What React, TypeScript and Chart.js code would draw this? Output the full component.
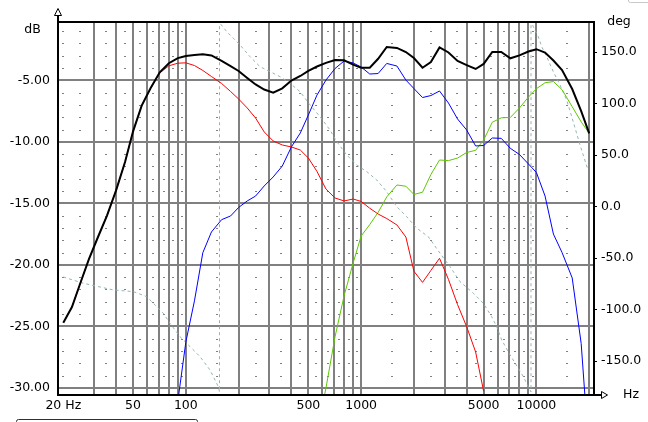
import { useEffect, useRef } from "react";
import { Chart, registerables } from "chart.js";

Chart.register(...registerables);

const FONT = "'DejaVu Sans', sans-serif";

// Frequency grid (Hz) shared by the magnitude curves
const freqs = [20, 22.4, 25, 28, 31.5, 35.5, 40, 45, 50, 56, 63, 71, 80, 90, 100, 112, 125, 140, 160, 180, 200, 224, 250, 280, 315, 355, 400, 450, 500, 560, 630, 710, 800, 900, 1000, 1120, 1250, 1400, 1600, 1800, 2000, 2240, 2500, 2800, 3150, 3550, 4000, 4500, 5000, 5600, 6300, 7100, 8000, 9000, 10000, 11200, 12500, 14000, 16000, 18000, 20000];

// Total response (dB)
const totalDb = [-24.71, -23.43, -21.5, -19.54, -17.76, -16.0, -13.95, -11.64, -9.15, -7.06, -5.63, -4.35, -3.61, -3.2, -3.02, -2.94, -2.89, -2.98, -3.43, -3.84, -4.24, -4.81, -5.34, -5.75, -6.01, -5.65, -5.02, -4.65, -4.24, -3.88, -3.58, -3.35, -3.37, -3.72, -3.98, -3.98, -3.25, -2.29, -2.37, -2.7, -3.19, -3.98, -3.51, -2.33, -2.74, -3.43, -3.76, -4.08, -3.67, -2.7, -2.7, -3.21, -2.97, -2.66, -2.47, -2.74, -3.39, -4.16, -5.71, -7.5, -9.31];

// Red curve (dB)
const redDb = [-24.71, -23.43, -21.5, -19.54, -17.76, -16.0, -13.95, -11.64, -9.15, -7.06, -5.65, -4.4, -3.82, -3.61, -3.58, -3.8, -4.2, -4.69, -5.26, -5.91, -6.52, -7.25, -8.07, -9.2, -9.93, -10.26, -10.42, -10.67, -11.32, -12.41, -13.84, -14.57, -14.81, -14.65, -14.85, -15.4, -15.87, -16.24, -16.76, -17.74, -20.52, -21.43, -20.46, -19.47, -21.19, -23.24, -25.03, -27.09, -30.29, null, null, null, null, null, null, null, null, null, null, null, null];

// Blue curve (dB)
const blueDb = [null, null, null, null, null, null, null, null, null, null, null, null, null, -31.1, -26.28, -22.93, -19.02, -17.33, -16.33, -16.03, -15.34, -14.81, -14.41, -13.59, -12.86, -11.97, -10.42, -9.28, -7.82, -6.2, -4.98, -4.04, -3.43, -3.59, -3.92, -4.49, -4.45, -3.63, -3.84, -4.98, -5.67, -6.4, -6.24, -5.87, -6.85, -8.15, -9.04, -10.34, -10.3, -9.69, -9.72, -10.53, -11.03, -11.8, -12.5, -14.41, -17.5, -19.0, -21.07, -26.4, -35.5];

// Green curve (dB)
const greenDb = [null, null, null, null, null, null, null, null, null, null, null, null, null, null, null, null, null, null, null, null, null, null, null, null, null, null, null, null, null, -33.6, -30.02, -25.85, -22.5, -19.86, -17.66, -16.73, -15.74, -14.48, -13.51, -13.61, -14.28, -14.1, -12.66, -11.48, -11.53, -11.32, -10.87, -10.69, -9.85, -8.41, -8.05, -8.02, -7.25, -6.37, -5.68, -5.2, -5.1, -5.76, -7.15, -8.38, -9.31];

// Phase curve (deg, right axis)
const phaseFreq = [20, 26, 38.6, 50.2, 59.8, 66.7, 74.4, 81.2, 92.6, 105.7, 120.5, 137.4, 153.2, 155.6, 155.7, 156.6, 171.1, 186.6, 203.7, 232.3, 265, 302.2, 344.7, 393, 448, 511, 582.8, 664.5, 725.6, 827.5, 943.6, 1076, 1227, 1399, 1596, 1819, 2075, 2416, 2818, 3214, 3665, 4366, 4978, 5556, 5934, 6338, 7069, 7879, 8417, 8989, 9312, 9313, 9598, 10248, 10716, 11442, 12480, 13626, 14878, 15896, 17730, 19684];
const phaseDeg = [-68.5, -74.6, -81.1, -82.7, -87.6, -95.6, -103.7, -113.4, -126.4, -136.1, -145.8, -158.7, -174.9, -180, 180, 177.6, 169.5, 163.1, 156.6, 145.2, 135.5, 130.7, 125.8, 119.4, 111.3, 98.4, 87.0, 74.1, 62.8, 49.9, 40.2, 33.7, 25.6, 14.3, -0.3, -10.0, -21.2, -29.4, -45.5, -58.5, -73.0, -84.3, -94.0, -107.0, -116.7, -129.6, -144.1, -157.0, -165.2, -174.9, -180, 180, 174.3, 164.6, 154.9, 145.2, 130.7, 117.8, 103.2, 87.0, 59.5, 35.3];

// Axis ticks
const dbTicks = [-30, -25, -20, -15, -10, -5];
const degTicks = [-150, -100, -50, 0, 50, 100, 150];
const xGridValues = [20, 30, 40, 50, 60, 70, 80, 90, 100, 200, 300, 400, 500, 600, 700, 800, 900, 1000, 2000, 3000, 4000, 5000, 6000, 7000, 8000, 9000, 10000, 20000];
const xLabelValues = [20, 50, 100, 500, 1000, 5000, 10000];
const xLabelTexts = ["20 Hz", "50", "100", "500", "1000", "5000", "10000"];
const minorFreqs = [20, 25, 35, 45, 55, 65, 75, 85, 95, 150, 250, 350, 450, 550, 650, 750, 850, 950, 1500, 2500, 3500, 4500, 5500, 6500, 7500, 8500, 9500, 15000];
const minorDb = [-1, -2, -3, -4, -6, -7, -8, -9, -11, -12, -13, -14, -16, -17, -18, -19, -21, -22, -23, -24, -26, -27, -28, -29];

const deco = {
  id: "deco",
  beforeDatasetsDraw(chart: any) {
    const { ctx, scales } = chart;
    const xs = scales.x;
    const ys = scales.y;
    ctx.save();
    ctx.fillStyle = "#808080";
    for (const f of minorFreqs) {
      const px = Math.round(xs.getPixelForValue(f));
      for (const d of minorDb) {
        const py = Math.round(ys.getPixelForValue(d));
        ctx.fillRect(px - 1, py, 2, 1);
      }
    }
    ctx.restore();
  },
  afterDatasetsDraw(chart: any) {
    const { ctx, chartArea: a, scales } = chart;
    const L = Math.round(a.left);
    const R = Math.round(a.right);
    const T = Math.round(a.top);
    const B = Math.round(a.bottom);
    ctx.save();
    ctx.fillStyle = "#000";
    // frame / axes
    ctx.fillRect(L, 15, 2, B - 15 + 1);
    ctx.fillRect(L, T, R - L + 1, 2);
    ctx.fillRect(R - 1, T, 2, B - T + 1);
    ctx.fillRect(L, B - 1, 601 - L, 2);
    // right axis tick marks
    for (const d of degTicks) {
      const py = Math.round(scales.y1.getPixelForValue(d));
      ctx.fillRect(R + 1, py, 2, 1);
    }
    // arrows
    ctx.strokeStyle = "#000";
    ctx.lineWidth = 1;
    ctx.beginPath();
    ctx.moveTo(54.5, 15.5);
    ctx.lineTo(58, 8.5);
    ctx.lineTo(61.5, 15.5);
    ctx.closePath();
    ctx.fillStyle = "#fff";
    ctx.fill();
    ctx.stroke();
    ctx.beginPath();
    ctx.moveTo(601.5, 391.5);
    ctx.lineTo(607.5, 395);
    ctx.lineTo(601.5, 398.5);
    ctx.closePath();
    ctx.fill();
    ctx.stroke();
    // unit labels
    ctx.fillStyle = "#000";
    ctx.font = `12.5px ${FONT}`;
    ctx.textAlign = "center";
    ctx.textBaseline = "alphabetic";
    ctx.fillText("dB", 32.5, 33);
    ctx.fillText("deg", 619, 25);
    ctx.fillText("Hz", 631, 398);
    // bottom bracket
    ctx.strokeStyle = "#303030";
    ctx.beginPath();
    ctx.moveTo(16.5, 423);
    ctx.lineTo(16.5, 421.5);
    ctx.quadraticCurveTo(16.5, 419.5, 18.5, 419.5);
    ctx.lineTo(195.5, 419.5);
    ctx.quadraticCurveTo(197.5, 419.5, 197.5, 421.5);
    ctx.lineTo(197.5, 423);
    ctx.stroke();
    // top-right light box edge
    ctx.strokeStyle = "#c8c8c8";
    ctx.beginPath();
    ctx.moveTo(628.5, -1);
    ctx.lineTo(628.5, 1);
    ctx.quadraticCurveTo(628.5, 2.5, 630.5, 2.5);
    ctx.lineTo(648, 2.5);
    ctx.stroke();
    ctx.restore();
  },
};

export default function App() {
  const ref = useRef<HTMLCanvasElement>(null);
  useEffect(() => {
    const canvas = ref.current;
    if (!canvas) return;
    const mk = (ys: (number | null)[]) => freqs.map((f, i) => ({ x: f, y: ys[i] }));
    const tickFont = { family: FONT, size: 12.5 };
    const chart = new Chart(canvas, {
      type: "line",
      data: {
        datasets: [
          { label: "Total", data: mk(totalDb), borderColor: "#000000", borderWidth: 2, pointRadius: 0, tension: 0, yAxisID: "y", order: 0 },
          { label: "Red", data: mk(redDb), borderColor: "#ff0000", borderWidth: 1, pointRadius: 0, tension: 0, yAxisID: "y", order: 1 },
          { label: "Blue", data: mk(blueDb), borderColor: "#0000ff", borderWidth: 1, pointRadius: 0, tension: 0, yAxisID: "y", order: 2 },
          { label: "Green", data: mk(greenDb), borderColor: "#5ec800", borderWidth: 1, pointRadius: 0, tension: 0, yAxisID: "y", order: 3 },
          { label: "Phase", data: phaseFreq.map((f, i) => ({ x: f, y: phaseDeg[i] })), borderColor: "#94b4b4", borderWidth: 1, borderDash: [3, 3], pointRadius: 0, tension: 0, yAxisID: "y1", order: 4 },
        ] as any,
      },
      options: {
        responsive: false,
        animation: false,
        devicePixelRatio: 1,
        events: [],
        layout: { padding: { top: 21, left: 0, right: 0, bottom: 0 } },
        plugins: { legend: { display: false }, tooltip: { enabled: false } },
        scales: {
          x: {
            type: "logarithmic",
            min: 18.41,
            max: 21302,
            afterBuildTicks: (s: any) => { s.ticks = xGridValues.map((v) => ({ value: v })); },
            afterFit: (s: any) => { s.height = 27; },
            grid: { color: (c: any) => (c.tick && c.tick.value === 20 ? "rgba(0,0,0,0)" : "#808080"), lineWidth: 2, drawTicks: false },
            border: { display: false },
            ticks: {
              autoSkip: false, maxRotation: 0, minRotation: 0, padding: 3, color: "#000", font: tickFont,
              callback: (v: any) => { const i = xLabelValues.indexOf(Number(v)); return i >= 0 ? xLabelTexts[i] : ""; },
            },
          },
          y: {
            type: "linear",
            position: "left",
            min: -30.585,
            max: -0.179,
            afterBuildTicks: (s: any) => { s.ticks = dbTicks.map((v) => ({ value: v })); },
            afterFit: (s: any) => { s.width = 57; },
            grid: { color: "#808080", lineWidth: 2, drawTicks: false },
            border: { display: false },
            ticks: { color: "#000", font: tickFont, padding: 7, callback: (v: any) => Number(v).toFixed(2) },
          },
          y1: {
            type: "linear",
            position: "right",
            min: -183,
            max: 179.8,
            afterBuildTicks: (s: any) => { s.ticks = degTicks.map((v) => ({ value: v })); },
            afterFit: (s: any) => { s.width = 54; },
            grid: { display: false, drawTicks: false },
            border: { display: false },
            ticks: { color: "#000", font: tickFont, padding: 7, callback: (v: any) => Number(v).toFixed(1) },
          },
        },
      } as any,
      plugins: [deco],
    });
    return () => chart.destroy();
  }, []);
  return (
    <div style={{ position: "fixed", left: 0, top: 0, width: 648, height: 422, background: "#fff" }}>
      <canvas ref={ref} width={648} height={422} style={{ display: "block", width: 648, height: 422 }} />
    </div>
  );
}
